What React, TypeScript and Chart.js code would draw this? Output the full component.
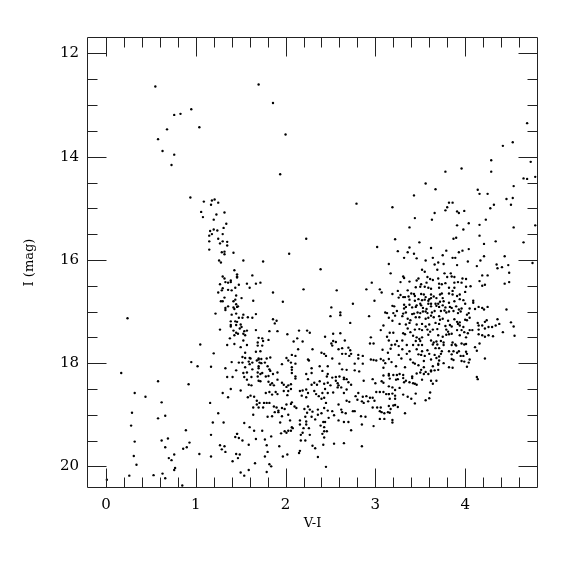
import { useEffect, useRef } from "react";
import { Chart, registerables } from "chart.js";
Chart.register(...registerables);

const X_MIN = -0.2;
const X_MAX = 4.8;
const Y_MIN = 11.7;
const Y_MAX = 20.4;
const X_LABEL = "V-I";
const Y_LABEL = "I (mag)";

// [V-I, I]
const upperStars: [number, number][] = [
  [0.55,12.64],[0.95,13.08],[0.76,13.19],[0.83,13.17],[1.04,13.43],[0.68,13.47],[0.58,13.66],
  [1.70,12.60],[1.86,12.96],[2.00,13.57],[4.69,13.35],[4.53,13.72],[4.42,13.79],[1.94,14.34],
  [2.79,14.91],[2.23,15.59],[3.02,15.75],[2.04,15.88],[1.53,16.01],[1.75,16.03],
];

const blueBranch: [number, number][] = [
  [0.63,13.89],[0.76,13.96],[0.73,14.16],[0.94,14.79],[1.09,14.87],[1.18,14.85],[1.21,14.83],[1.25,14.89],
  [1.17,14.93],[1.06,15.07],[1.32,15.08],[1.23,15.12],[1.08,15.17],[1.20,15.22],[1.34,15.30],[1.31,15.38],
  [1.20,15.41],[1.16,15.44],[1.24,15.43],[1.30,15.50],[1.18,15.50],[1.15,15.53],[1.25,15.59],[1.15,15.64],
  [1.30,15.64],[1.35,15.65],[1.27,15.68],[1.35,15.72],[1.15,15.80],[1.42,15.86],[1.29,15.85],[1.32,15.84],
  [1.32,15.89],[1.26,16.01],[1.28,16.05],
  [1.43,16.20],[1.30,16.32],[1.32,16.36],[1.39,16.40],[1.46,16.32],[1.33,16.43],[1.36,16.44],[1.39,16.43],
  [1.27,16.47],[1.44,16.54],[1.30,16.55],[1.36,16.58],[1.40,16.59],[1.29,16.59],[1.25,16.63],[1.45,16.69],
  [1.32,16.73],[1.28,16.80],[1.30,16.80],[1.42,16.80],[1.44,16.77],[1.45,16.86],[1.36,16.90],[1.33,16.93],
  [1.42,16.92],[1.43,16.95],[1.33,16.97],[1.40,17.06],[1.45,17.04],[1.22,17.04],[0.24,17.13],[1.39,17.19],
  [1.44,17.19],[1.39,17.26],[1.39,17.29],[1.45,17.26],[1.27,17.35],[1.42,17.37],[1.45,17.41],[1.43,17.46],
  [1.38,17.52],[1.05,17.64],[1.35,17.65],[1.43,17.63],[1.20,17.81],[0.95,17.98],[1.40,17.98],[1.02,18.06],
  [1.17,18.07],[1.33,18.10],[1.45,18.14],[0.17,18.19],[1.35,18.27],[1.41,18.27],
  [0.58,18.35],[0.92,18.41],[0.32,18.58],[0.44,18.65],[1.30,18.58],[1.39,18.50],[1.36,18.66],[0.62,18.76],
  [1.16,18.77],[0.29,18.96],[0.66,19.02],[0.58,19.07],[1.25,18.97],[1.19,19.15],[1.31,19.15],[0.28,19.21],
  [0.89,19.30],[1.17,19.39],[1.44,19.43],[1.46,19.37],[0.69,19.46],[0.62,19.50],[0.32,19.52],[0.93,19.54],
  [0.90,19.63],[0.86,19.66],[1.27,19.59],[1.32,19.61],[1.29,19.67],[1.33,19.72],[0.66,19.63],[1.04,19.76],
  [1.17,19.81],[1.45,19.76],[0.31,19.80],[0.76,19.77],[0.70,19.84],[0.73,19.88],[1.41,19.90],[0.34,19.97],
  [0.77,20.03],[0.76,20.07],[0.63,20.14],[0.53,20.17],[0.66,20.23],[0.26,20.18],[0.01,20.26],[0.85,20.37],
];

const redGiants: [number, number][] = [
  [4.29,14.07],[4.73,14.10],[3.96,14.23],[3.78,14.29],[4.29,14.29],[4.78,14.39],[4.65,14.42],[4.69,14.43],
  [3.56,14.52],[4.54,14.57],[3.67,14.63],[4.14,14.64],[4.16,14.72],[4.25,14.72],[3.43,14.75],[4.46,14.82],
  [4.53,14.80],[3.82,14.89],[3.86,14.89],[4.32,14.93],[4.51,14.93],[3.19,14.98],[3.80,14.98],[4.28,15.00],
  [3.78,15.04],[3.91,15.06],[3.99,15.05],[3.93,15.09],[3.66,15.09],[3.44,15.19],[3.63,15.22],[4.23,15.22],
  [4.04,15.29],[4.16,15.32],[3.91,15.33],[4.78,15.33],[3.38,15.37],[4.54,15.37],[3.98,15.41],[4.16,15.53],
  [3.90,15.57],[3.87,15.59],[3.22,15.60],[4.34,15.64],[3.49,15.66],[4.65,15.66],[4.21,15.69],[3.38,15.76],
  [3.62,15.77],[4.04,15.79],[3.25,15.83],[3.79,15.82],[3.97,15.82],[3.36,15.85],[3.43,15.88],[3.93,15.85],
  [3.75,15.91],[3.32,15.96],[3.46,15.97],[3.64,15.96],[3.86,15.96],[3.89,15.96],[4.21,15.93],[4.44,15.93],
  [3.56,16.01],[3.70,16.05],[4.03,16.03],[4.17,16.01],[4.75,16.06],
  [3.15,16.08],[3.66,16.09],[3.76,16.08],[3.91,16.10],[4.13,16.12],[4.36,16.16],[4.41,16.14],[4.48,16.10],
  [4.35,16.09],[3.52,16.19],[3.55,16.23],[3.69,16.19],[3.77,16.26],[3.84,16.26],[3.85,16.32],[3.17,16.26],
  [3.31,16.32],[3.32,16.35],[3.48,16.36],[3.58,16.33],[3.61,16.37],[3.64,16.39],[3.70,16.36],[3.80,16.33],
  [3.88,16.33],[3.97,16.36],[4.01,16.37],[4.19,16.30],[4.25,16.30],[4.49,16.25],[4.16,16.41],[3.96,16.44],
  [3.92,16.43],[3.88,16.44],[3.78,16.45],[3.74,16.47],[3.71,16.46],[3.57,16.44],[3.51,16.47],[3.46,16.40],
  [3.38,16.42],[3.28,16.43],[4.49,16.43],[4.44,16.46],[4.22,16.48],[4.19,16.50],[4.06,16.51],[4.01,16.52],
  [3.88,16.54],[3.82,16.54],[3.71,16.54],[3.62,16.56],[3.59,16.54],[3.55,16.52],[3.50,16.52],[3.45,16.53],
  [3.36,16.59],[3.25,16.60],[3.19,16.66],[3.28,16.68],[3.40,16.65],[3.43,16.66],[3.44,16.70],[3.51,16.66],
  [3.54,16.67],[3.56,16.72],[3.62,16.67],[3.65,16.71],[3.72,16.67],[3.74,16.65],[3.82,16.65],[3.86,16.67],
  [3.91,16.70],[3.94,16.67],[4.00,16.62],[3.86,16.60],[3.75,16.74],[3.68,16.74],[3.62,16.74],[3.60,16.76],
  [3.48,16.76],[3.37,16.71],[3.33,16.72],[3.31,16.72],[3.26,16.73],[3.38,16.77],[3.44,16.79],[3.52,16.78],
  [3.55,16.77],[3.59,16.79],[3.72,16.81],[3.76,16.80],[3.82,16.83],[3.88,16.80],[3.94,16.76],[3.98,16.78],
  [4.09,16.79],[4.09,16.83],[4.00,16.85],[3.70,16.85],[3.67,16.85],[3.62,16.85],[3.59,16.85],[3.50,16.85],
  [3.46,16.88],[3.38,16.87],[3.32,16.87],[3.19,16.89],[3.21,16.90],[3.24,16.99],[3.32,16.94],[3.34,16.91],
  [3.41,16.92],[3.45,16.91],[3.51,16.88],[3.53,16.93],[3.57,16.95],[3.62,16.90],[3.68,16.89],[3.71,16.91],
  [3.75,16.88],[3.78,16.92],[3.83,16.91],[3.85,16.93],[3.90,16.90],[3.93,16.96],[3.96,16.94],[4.05,16.94],
  [4.11,16.95],[4.15,16.91],[4.19,16.93],[4.21,16.96],[4.25,16.91],[4.46,16.96],[3.20,17.03],[3.22,17.08],
  [3.30,17.09],[3.31,17.04],[3.34,17.02],[3.41,17.05],[3.43,17.04],[3.47,17.02],[3.50,17.03],[3.53,17.00],
  [3.56,17.00],[3.58,17.03],[3.63,17.02],[3.66,16.99],[3.73,16.99],[3.77,16.98],[3.79,17.02],[3.82,17.00],
  [3.87,16.99],[3.92,17.03],[3.95,17.00],[4.02,17.06],[4.04,17.03],[3.62,17.08],[3.65,17.11],[3.59,17.12],
  [3.56,17.14],[3.49,17.11],[3.45,17.11],[3.39,17.17],[3.36,17.14],[3.19,17.18],[3.15,17.12],[3.71,17.09],
  [3.72,17.16],[3.75,17.14],[3.81,17.18],[3.88,17.15],[3.91,17.20],[3.94,17.21],[4.00,17.16],[4.02,17.17],
  [4.05,17.12],[4.14,17.22],[4.15,17.27],[4.22,17.20],[4.24,17.17],[4.26,17.30],[4.30,17.30],[4.34,17.27],
  [4.36,17.15],[4.38,17.24],[4.42,17.40],[4.51,17.21],[4.54,17.29],[4.55,17.47],[3.27,17.24],[3.34,17.25],
  [3.38,17.22],[3.46,17.25],[3.52,17.24],[3.56,17.29],[3.60,17.25],[3.67,17.22],[3.71,17.24],[3.78,17.28],
  [3.83,17.26],[3.85,17.29],[3.92,17.24],[3.94,17.27],[3.98,17.30],[4.05,17.36],[4.08,17.36],[4.15,17.35],
  [4.19,17.27],[4.22,17.33],[3.36,17.33],[3.44,17.35],[3.49,17.34],[3.52,17.36],[3.58,17.35],[3.61,17.39],
  [3.64,17.35],[3.69,17.34],[3.79,17.35],[3.81,17.39],[3.85,17.43],[3.91,17.36],[3.96,17.36],[3.99,17.40],
  [4.03,17.42],[3.16,17.41],[3.20,17.41],[3.31,17.42],[3.33,17.44],[3.39,17.40],[3.42,17.47],[3.46,17.50],
  [3.49,17.53],[3.52,17.50],[3.59,17.45],[3.70,17.46],[3.75,17.49],[3.79,17.45],[3.82,17.44],[3.94,17.46],
  [4.01,17.50],[4.15,17.44],[4.19,17.46],[4.26,17.46],[4.31,17.48],[3.15,17.56],[3.24,17.57],[3.30,17.56],
  [3.45,17.57],[3.50,17.57],[3.62,17.56],[3.65,17.60],[3.68,17.58],[3.73,17.57],[3.76,17.60],[3.86,17.60],
  [3.89,17.64],[3.96,17.62],[4.01,17.63],[4.16,17.62],[4.22,17.49],[3.18,17.65],[3.22,17.64],[3.26,17.67],
  [3.35,17.65],[3.42,17.65],[3.48,17.65],[3.52,17.65],[3.64,17.64],[3.69,17.64],[3.76,17.65],[3.85,17.65],
  [3.90,17.66],[3.99,17.64],[3.17,17.72],[3.30,17.73],[3.38,17.77],[3.46,17.73],[3.52,17.77],[3.58,17.75],
  [3.67,17.71],[3.71,17.71],[3.74,17.77],[3.82,17.77],[3.87,17.77],[3.93,17.77],[4.01,17.78],[4.11,17.69],
  [4.13,17.76],[3.26,17.84],[3.35,17.82],[3.48,17.83],[3.51,17.84],[3.55,17.86],[3.60,17.82],[3.66,17.84],
  [3.71,17.87],[3.73,17.82],[3.85,17.83],[3.91,17.80],[3.95,17.86],[3.98,17.86],[4.02,17.82],[4.22,17.91],
  [3.15,17.92],[3.18,17.98],[3.29,17.91],[3.39,17.93],[3.42,17.99],[3.44,18.01],[3.54,17.96],[3.62,17.93],
  [3.68,17.90],[3.71,17.95],[3.70,18.01],[3.76,18.00],[3.85,17.92],[3.87,17.94],[3.96,17.96],[3.99,17.97],
  [4.04,17.99],[4.05,17.93],[3.23,18.06],[3.33,18.08],[3.48,18.04],[3.54,18.08],[3.64,18.06],[3.70,18.03],
  [3.82,18.08],[3.86,18.09],[4.02,18.07],[3.51,18.13],[3.56,18.17],[3.62,18.14],[3.66,18.14],[3.70,18.13],
  [3.15,18.24],[3.20,18.23],[3.24,18.23],[3.27,18.21],[3.31,18.23],[3.41,18.26],[3.46,18.20],[3.50,18.18],
  [3.54,18.21],[3.59,18.21],[3.62,18.16],[4.13,18.27],
  [3.16,18.30],[3.25,18.31],[3.31,18.29],[3.41,18.29],[3.23,18.32],[3.32,18.37],[3.34,18.34],[3.38,18.37],
  [3.42,18.39],[3.44,18.40],[3.46,18.42],[3.52,18.32],[3.62,18.34],[3.64,18.40],[3.68,18.34],[4.14,18.31],
  [3.15,18.45],[3.19,18.47],[3.22,18.52],[3.27,18.48],[3.31,18.61],[3.36,18.65],[3.40,18.69],[3.45,18.59],
  [3.61,18.57],[3.56,18.72],[3.60,18.68],[3.15,18.60],[3.19,18.59],[3.22,18.63],[3.22,18.69],[3.16,18.69],
  [3.44,18.78],[3.15,18.83],[3.20,18.82],[3.22,18.81],[3.25,18.85],[3.17,18.89],[3.16,18.96],[3.33,18.97],
  [3.19,19.10],[3.19,19.15],
];

const mainField: [number, number][] = [
  [2.39,16.18],[1.46,16.28],[1.46,16.34],[1.63,16.30],[1.57,16.46],[1.67,16.46],[1.72,16.44],[1.48,16.48],
  [1.60,16.54],[1.86,16.63],[2.20,16.57],[2.57,16.59],[2.90,16.57],[3.05,16.57],[3.07,16.63],[2.96,16.44],
  [1.51,16.74],[1.64,16.79],[1.97,16.81],[2.99,16.79],[1.46,16.91],[1.47,16.90],[2.75,16.85],[2.51,16.92],
  [3.11,17.02],[3.13,17.03],[2.61,17.02],[2.61,17.07],[2.50,17.09],[2.93,17.09],[1.67,17.05],[1.53,17.06],
  [1.48,17.12],[1.58,17.11],[1.63,17.12],[1.52,17.12],[1.86,17.15],[1.90,17.18],[1.88,17.23],[2.72,17.22],
  [3.09,17.27],[1.46,17.20],[1.50,17.25],[1.51,17.30],[1.49,17.33],[1.67,17.36],[1.82,17.38],[1.91,17.38],
  [1.54,17.38],[1.57,17.37],[1.53,17.43],[1.55,17.46],[1.47,17.43],[3.06,17.36],[2.02,17.44],[2.15,17.37],
  [2.24,17.37],[2.27,17.41],[2.44,17.49],[2.53,17.43],[2.61,17.42],[2.95,17.50],[3.13,17.49],[1.70,17.51],
  [1.74,17.52],[1.81,17.55],[2.13,17.52],[1.53,17.56],[1.69,17.60],[1.75,17.57],[2.09,17.58],[2.19,17.58],
  [2.53,17.57],[2.56,17.59],[2.66,17.56],[2.94,17.62],[2.98,17.62],[1.69,17.66],[1.74,17.66],[1.57,17.65],
  [1.50,17.69],[2.14,17.73],[2.30,17.73],[2.51,17.62],[2.52,17.66],[2.59,17.73],[2.63,17.71],[2.70,17.70],
  [2.72,17.75],[3.08,17.74],[1.55,17.80],[1.67,17.78],[1.72,17.77],[2.40,17.80],[2.43,17.82],[2.45,17.86],
  [2.07,17.84],[2.11,17.86],[2.63,17.82],[2.67,17.82],[2.73,17.82],[2.81,17.84],[2.86,17.86],[3.14,17.80],
  [1.52,17.88],[1.55,17.90],[1.60,17.90],[1.61,17.91],[1.70,17.91],[1.70,17.93],[1.73,17.92],[1.79,17.91],
  [1.83,17.89],[2.01,17.90],[2.25,17.93],[2.26,17.95],[2.52,17.91],[2.71,17.86],[2.81,17.91],[2.95,17.93],
  [2.98,17.94],[3.01,17.95],[3.06,17.92],[3.09,17.95],[1.48,17.99],[1.59,17.97],[1.60,18.02],[1.63,17.99],
  [1.52,17.99],[1.68,17.95],[1.71,17.99],[1.73,18.00],[1.77,17.99],[2.03,17.95],[2.06,17.99],[2.11,18.01],
  [1.96,18.02],[2.38,18.06],[2.60,18.01],[2.77,18.01],[2.86,18.01],[3.11,18.00],[1.55,18.08],[1.63,18.12],
  [1.70,18.06],[1.70,18.10],[1.80,18.06],[1.82,18.12],[1.83,18.15],[2.07,18.08],[2.07,18.13],[2.29,18.10],
  [2.47,18.06],[2.68,18.13],[3.09,18.09],[2.77,18.14],[2.82,18.16],[2.41,18.15],[2.63,18.12],[1.53,18.19],
  [1.57,18.18],[1.69,18.18],[1.72,18.21],[1.74,18.19],[1.86,18.21],[1.91,18.18],[2.07,18.19],[2.23,18.21],
  [2.29,18.19],[2.47,18.21],[1.54,18.27],[1.62,18.27],[1.69,18.26],[1.78,18.26],[1.81,18.25],[2.11,18.26],
  [2.46,18.26],[2.52,18.28],[2.56,18.27],[2.60,18.26],[2.65,18.28],[3.15,18.21],[3.09,18.24],
  [1.57,18.32],[1.59,18.42],[1.62,18.43],[1.70,18.34],[1.72,18.35],[1.81,18.36],[1.83,18.42],[1.85,18.39],
  [1.87,18.43],[1.91,18.32],[1.96,18.38],[1.98,18.42],[2.01,18.46],[2.03,18.43],[2.06,18.41],[2.11,18.30],
  [2.25,18.31],[2.29,18.42],[2.32,18.38],[2.35,18.42],[2.38,18.35],[2.43,18.40],[2.47,18.38],[2.50,18.43],
  [2.56,18.34],[2.58,18.39],[2.59,18.43],[2.65,18.31],[2.68,18.31],[2.70,18.37],[2.73,18.42],[2.87,18.34],
  [2.97,18.31],[3.00,18.39],[3.07,18.35],[3.09,18.38],[1.50,18.53],[1.58,18.66],[1.61,18.63],[1.65,18.65],
  [1.68,18.73],[1.71,18.77],[1.76,18.77],[1.79,18.77],[1.82,18.77],[1.78,18.58],[1.82,18.56],[1.85,18.61],
  [1.89,18.56],[1.91,18.60],[1.98,18.54],[2.02,18.62],[2.03,18.54],[2.06,18.50],[2.16,18.54],[2.18,18.63],
  [2.19,18.53],[2.23,18.51],[2.25,18.58],[2.23,18.66],[2.32,18.54],[2.34,18.60],[2.37,18.64],[2.40,18.69],
  [2.43,18.67],[2.45,18.77],[2.41,18.58],[2.44,18.50],[2.47,18.58],[2.53,18.57],[2.58,18.47],[2.62,18.47],
  [2.65,18.58],[2.68,18.51],[2.68,18.73],[2.71,18.75],[2.78,18.64],[2.80,18.71],[2.85,18.74],[2.87,18.77],
  [2.92,18.74],[2.94,18.67],[2.97,18.67],[2.99,18.73],[3.01,18.56],[3.05,18.56],[3.09,18.56],[3.12,18.60],
  [3.15,18.60],[2.86,18.65],[2.90,18.64],[2.81,18.58],[1.68,18.80],[1.64,18.86],[1.70,18.86],[1.75,18.86],
  [1.87,18.84],[1.90,18.86],[1.92,18.92],[1.96,18.87],[1.99,18.89],[2.01,18.80],[2.06,18.79],[2.07,18.76],
  [2.10,18.84],[2.12,18.87],[2.16,19.11],[2.21,18.89],[2.24,18.96],[2.25,18.84],[2.27,18.90],[2.30,18.94],
  [2.36,18.90],[2.40,18.97],[2.43,18.87],[2.47,18.92],[2.52,18.93],[2.54,19.01],[2.59,18.80],[2.62,18.90],
  [2.63,18.95],[2.67,18.97],[2.75,18.93],[2.77,18.93],[2.84,19.03],[2.89,19.04],[2.97,18.86],[3.02,18.86],
  [3.05,18.93],[3.06,18.86],[3.07,18.95],[3.10,18.97],[3.05,19.08],[3.10,19.08],[3.14,18.95],[1.64,19.00],
  [1.80,19.04],[1.85,19.03],[1.88,18.95],[1.92,18.95],[1.94,19.15],[1.96,19.03],[2.03,19.00],[2.05,19.11],
  [2.07,19.24],[2.16,19.19],[2.22,19.04],[2.23,19.13],[2.23,19.19],[2.26,19.26],[2.29,19.04],[2.33,19.09],
  [2.36,19.00],[2.39,19.21],[2.42,19.14],[2.44,19.14],[2.43,19.24],[2.46,19.32],[2.48,19.06],[2.59,19.11],
  [2.65,19.14],[2.70,19.14],[2.73,19.30],[2.85,19.19],[2.98,19.22],[1.54,19.16],[1.60,19.24],[1.65,19.31],
  [1.74,19.31],[1.67,19.47],[1.77,19.48],[1.84,19.42],[1.95,19.36],[1.99,19.32],[2.01,19.35],[2.03,19.31],
  [2.06,19.31],[2.08,19.26],[2.17,19.39],[2.19,19.35],[2.20,19.26],[2.27,19.39],[2.41,19.37],[2.43,19.44],
  [2.43,19.32],[2.17,19.50],[2.22,19.50],[2.30,19.60],[2.33,19.65],[2.42,19.58],[2.54,19.56],[2.65,19.55],
  [2.85,19.61],[1.46,19.37],[1.48,19.45],[1.52,19.50],[1.59,19.58],[1.79,19.59],[1.80,19.72],[1.93,19.61],
  [1.97,19.81],[2.02,19.77],[2.15,19.74],[2.16,19.70],[2.36,19.82],[1.49,19.77],[1.47,19.84],[1.77,19.81],
  [1.66,19.94],[1.82,19.96],[1.84,20.00],[1.59,20.07],[1.50,20.12],[1.54,20.18],[1.79,20.11],[2.45,20.01],
];

const xMajorTicks = [0, 1, 2, 3, 4];
const yMajorTicks = [12, 14, 16, 18, 20];
const X_MINOR_STEP = 0.2;
const Y_MINOR_STEP = 0.5;

const framePlugin = {
  id: "frameTicks",
  afterDatasetsDraw(chart: any) {
    const { ctx, chartArea: a, scales } = chart;
    const xs = scales.x;
    const ys = scales.y;
    const L = a.left - 0.5, R = a.right + 0.5, T = a.top - 0.5, B = a.bottom + 0.5;
    ctx.save();
    ctx.strokeStyle = "#222";
    ctx.lineWidth = 1;
    ctx.beginPath();
    ctx.rect(L, T, R - L, B - T);
    ctx.stroke();
    ctx.beginPath();
    const nx = Math.round((X_MAX - X_MIN) / X_MINOR_STEP);
    for (let i = 0; i <= nx; i++) {
      const v = X_MIN + i * X_MINOR_STEP;
      const major = xMajorTicks.some((m) => Math.abs(m - v) < 1e-6);
      const len = major ? 19 : 10;
      const px = Math.round(xs.getPixelForValue(v)) + 0.5;
      if (px <= L + 1 || px >= R - 1) continue;
      ctx.moveTo(px, B); ctx.lineTo(px, B - len);
      ctx.moveTo(px, T); ctx.lineTo(px, T + len);
    }
    const ny = Math.round((Y_MAX - Y_MIN) / Y_MINOR_STEP);
    for (let i = 0; i <= ny + 1; i++) {
      const v = 12 + (i - 1) * Y_MINOR_STEP;
      if (v < Y_MIN || v > Y_MAX) continue;
      const major = yMajorTicks.some((m) => Math.abs(m - v) < 1e-6);
      const len = major ? 19 : 10;
      const py = Math.round(ys.getPixelForValue(v)) + 0.5;
      if (py <= T + 1 || py >= B - 1) continue;
      ctx.moveTo(L, py); ctx.lineTo(L + len, py);
      ctx.moveTo(R, py); ctx.lineTo(R - len, py);
    }
    ctx.stroke();
    ctx.restore();
  },
};

export default function App() {
  const ref = useRef<HTMLCanvasElement | null>(null);
  useEffect(() => {
    if (!ref.current) return;
    const toPts = (arr: [number, number][]) => arr.map(([x, y]) => ({ x, y }));
    const ds = (arr: [number, number][]) => ({
      data: toPts(arr),
      backgroundColor: "#000",
      borderWidth: 0,
      pointRadius: 1.2,
      pointHoverRadius: 1.2,
    });
    const chart = new Chart(ref.current, {
      type: "scatter",
      data: {
        datasets: [ds(upperStars), ds(blueBranch), ds(redGiants), ds(mainField)],
      },
      options: {
        animation: false,
        responsive: false,
        events: [],
        layout: { padding: { left: 0, top: 38, right: 38, bottom: 0 } },
        plugins: { legend: { display: false }, tooltip: { enabled: false } },
        scales: {
          x: {
            type: "linear",
            min: X_MIN,
            max: X_MAX,
            grid: { display: false, drawTicks: false },
            border: { display: false },
            afterFit: (s: any) => { s.height = 88; },
            afterBuildTicks: (s: any) => { s.ticks = xMajorTicks.map((v) => ({ value: v })); },
            ticks: {
              color: "#000",
              padding: 9,
              font: { family: "DejaVu Serif", size: 15 },
            },
            title: {
              display: true,
              text: X_LABEL,
              color: "#000",
              font: { family: "DejaVu Serif", size: 13 },
              padding: { top: 0, bottom: 44 },
            },
          },
          y: {
            type: "linear",
            min: Y_MIN,
            max: Y_MAX,
            reverse: true,
            grid: { display: false, drawTicks: false },
            border: { display: false },
            afterFit: (s: any) => { s.width = 88; },
            afterBuildTicks: (s: any) => { s.ticks = yMajorTicks.map((v) => ({ value: v })); },
            ticks: {
              color: "#000",
              padding: 9,
              font: { family: "DejaVu Serif", size: 15 },
            },
            title: {
              display: true,
              text: Y_LABEL,
              color: "#000",
              font: { family: "DejaVu Serif", size: 13 },
              padding: { top: 22, bottom: 0 },
            },
          },
        },
      },
      plugins: [framePlugin],
    });
    return () => chart.destroy();
  }, []);
  return (
    <div style={{ position: "absolute", left: 0, top: 0, width: 575, height: 575, background: "#fff" }}>
      <canvas ref={ref} width={575} height={575} style={{ width: 575, height: 575 }} />
    </div>
  );
}
